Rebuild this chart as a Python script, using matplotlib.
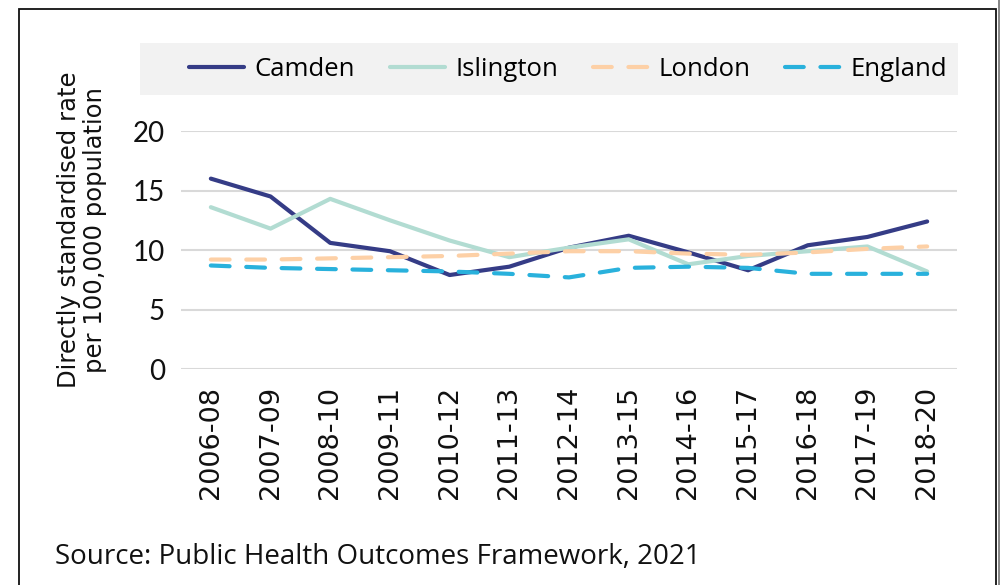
import matplotlib
matplotlib.use('Agg')
import matplotlib.pyplot as plt
from matplotlib.patches import Rectangle

plt.rcParams['font.family'] = ['Open Sans', 'DejaVu Sans']

periods = ['2006-08', '2007-09', '2008-10', '2009-11', '2010-12', '2011-13', '2012-14',
           '2013-15', '2014-16', '2015-17', '2016-18', '2017-19', '2018-20']
camden = [16.0, 14.5, 10.6, 9.9, 7.9, 8.6, 10.2, 11.2, 9.8, 8.3, 10.4, 11.1, 12.4]
islington = [13.6, 11.8, 14.3, 12.5, 10.8, 9.4, 10.2, 10.9, 8.8, 9.5, 9.9, 10.3, 8.2]
london = [9.2, 9.2, 9.3, 9.4, 9.5, 9.7, 9.9, 9.9, 9.7, 9.6, 9.8, 10.1, 10.3]
england = [8.7, 8.5, 8.4, 8.3, 8.2, 8.0, 7.7, 8.5, 8.6, 8.5, 8.0, 8.0, 8.0]

fig = plt.figure(figsize=(10, 5.85), dpi=100)
ax = fig.add_axes([0.181, 0.3692, 0.776, 0.4068])

x = range(len(periods))
ax.plot(x, camden, color='#353c86', lw=3, label='Camden', solid_capstyle='round')
ax.plot(x, islington, color='#b2dcd2', lw=3, label='Islington', solid_capstyle='round')
ax.plot(x, london, color='#fdd0a6', lw=3, label='London', dashes=(4.5, 4), dash_capstyle='round')
ax.plot(x, england, color='#29b1dc', lw=3, label='England', dashes=(4.5, 4), dash_capstyle='round')

ax.set_xlim(-0.5, len(periods) - 0.5)
ax.set_ylim(0, 20)
ax.set_yticks([0, 5, 10, 15, 20])
ax.set_xticks(list(x))
ax.set_xticklabels(periods, rotation=90, family='DejaVu Sans', fontsize=19.5)
ax.set_yticklabels(['0', '5', '10', '15', '20'], family='Lato', fontsize=20)
ax.tick_params(length=0, colors='#111111')
ax.tick_params(axis='y', pad=11.5)
ax.tick_params(axis='x', pad=12)
ax.grid(axis='y', color='#d9d9d9', lw=1.5)
ax.set_axisbelow(True)
for s in ax.spines.values():
    s.set_visible(False)

fig.text(0.082, 1 - 230 / 585, 'Directly standardised rate\nper 100,000 population',
         family='DejaVu Sans', fontsize=17.5, color='#111111', rotation=90,
         ha='center', va='center', multialignment='center', linespacing=1.1)

# grey legend band
fig.patches.append(Rectangle((140 / 1000, 1 - 95 / 585), (958 - 140) / 1000, 52 / 585,
                             transform=fig.transFigure, facecolor='#f2f2f2',
                             edgecolor='none', zorder=0))
leg = fig.legend(loc='center', bbox_to_anchor=(0.568, 1 - 69 / 585), ncol=4,
                 fontsize=18.5, frameon=False, handlelength=2.15,
                 columnspacing=1.36, handletextpad=0.4, borderpad=0.3)

fig.text(0.055, 1 - 557 / 585, 'Source: Public Health Outcomes Framework, 2021',
         fontsize=20, color='#111111', va='center')

fig.patches.append(Rectangle((19 / 1000, -0.01), (996 - 19) / 1000, (585 - 9) / 585 + 0.01,
                             transform=fig.transFigure, fill=False, edgecolor='#111111', lw=1.3))
fig.patches.append(Rectangle((0.998, 0), 0.002, 1, transform=fig.transFigure,
                             facecolor='#888888', edgecolor='none'))

fig.savefig('out.png', dpi=100)
